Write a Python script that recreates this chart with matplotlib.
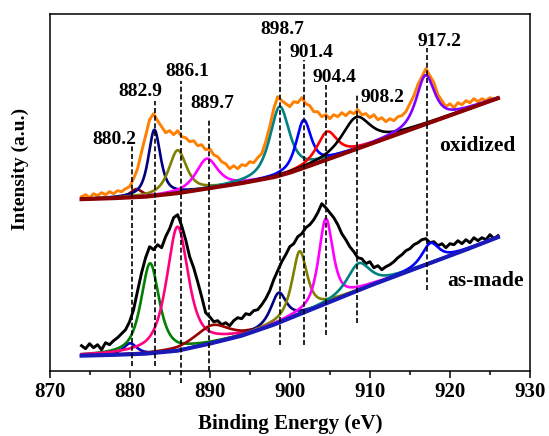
import numpy as np
import matplotlib
matplotlib.use("Agg")
import matplotlib.pyplot as plt
from matplotlib.ticker import MultipleLocator

plt.rcParams['font.family'] = ['Liberation Serif', 'DejaVu Serif']
plt.rcParams['font.weight'] = 'bold'

# energy grid of the measured spectra (eV)
energy = np.arange(874.0, 926.01, 0.5)

# raw spectra (arbitrary units)
oxidized_raw = [174, 176, 173, 177, 175, 178, 176, 179, 177, 180, 179, 182, 184, 192, 202, 219,
                235, 251, 257, 250, 244, 238, 240, 236, 240, 234, 233, 229, 230, 225, 226, 221,
                222, 216, 214, 209, 207, 202, 205, 202, 206, 205, 209, 208, 213, 217, 229, 244,
                262, 274, 270, 267, 264, 269, 268, 273, 267, 265, 259, 259, 254, 256, 252, 256,
                254, 258, 255, 259, 257, 261, 256, 257, 253, 256, 251, 253, 249, 252, 250, 254,
                255, 259, 267, 275, 286, 294, 302, 295, 288, 276, 270, 264, 267, 263, 268, 266,
                270, 268, 272, 269, 272, 270, 273, 271, 272]
asmade_raw = [25, 22, 27, 23, 26, 21, 28, 26, 30, 33, 37, 41, 49, 61, 80, 98,
              113, 124, 121, 126, 123, 134, 142, 153, 156, 145, 131, 114, 103, 89, 74, 58,
              54, 49, 50, 46, 48, 45, 50, 53, 52, 57, 56, 60, 61, 66, 72, 80,
              91, 100, 109, 116, 124, 127, 134, 137, 143, 146, 151, 158, 167, 163, 158, 153,
              146, 137, 131, 124, 119, 113, 112, 107, 109, 103, 105, 101, 104, 106, 109, 113,
              116, 120, 122, 126, 128, 131, 132, 128, 129, 125, 127, 123, 127, 126, 130, 127,
              131, 128, 133, 130, 133, 131, 136, 132, 135]

# backgrounds
ox_bg_x = [874, 878, 882, 886, 890, 894, 898, 900, 902, 906, 910, 914, 918, 922, 926]
ox_bg_y = [171.5, 172.5, 174, 177.5, 182.5, 187.5, 193.5, 198, 203.5, 215, 226.5, 238, 249.5, 261, 272.5]
am_bg_x = [874, 878, 882, 886, 890, 894, 898, 902, 906, 910, 914, 918, 922, 926]
am_bg_y = [15, 15.8, 17, 20, 27, 35, 46, 59, 72, 85, 97, 109, 121, 133.5]

# fitted components: centre (eV), height above background, FWHM (eV)
ox_center = [880.85, 883.1, 886.0, 889.65, 898.73, 901.73, 904.65, 908.3, 916.94]
ox_height = [8, 66, 43, 30, 69, 48, 28, 32, 49]
ox_fwhm = [1.8, 1.8, 2.6, 3.2, 2.9, 2.2, 3.0, 4.2, 2.7]
ox_colors = ['#990000', '#000080', '#808000', '#FF00FF', '#008080', '#0000FF', '#FF0000', '#000000', '#8000FF']

am_center = [880.06, 882.56, 885.98, 890.28, 898.6, 901.23, 904.5, 908.6, 917.56]
am_height = [11, 90, 124, 18, 30, 63, 85, 27, 20]
am_fwhm = [2.0, 2.7, 3.2, 5.0, 2.3, 2.2, 2.1, 3.4, 2.5]
am_colors = ['#0000CC', '#008000', '#FF0080', '#990000', '#000080', '#808000', '#FF00FF', '#008080', '#0000FF']

# peak labels and marker lines
peak_labels = ['880.2', '882.9', '886.1', '889.7', '898.7', '901.4', '904.4', '908.2', '917.2']
label_x = [878.06, 881.4, 887.15, 890.28, 899.09, 902.65, 905.56, 911.53, 918.65]
label_y = [227, 274.3, 295, 262.7, 336.7, 313.7, 288.3, 268.3, 325]
line_x = [880.3, 883.2, 886.4, 889.95, 898.75, 901.75, 904.55, 908.4, 917.15]
line_top = [224.3, 269.3, 289.3, 251, 331, 311, 286, 276, 322.7]
line_bottom = [4.3, 4.3, -12.3, 0, 26, 26, 36, 47.7, 81]


def pvoigt(x, c, h, w, eta=0.7):
    g = np.exp(-4 * np.log(2) * ((x - c) / w) ** 2)
    lo = 1.0 / (1.0 + 4 * ((x - c) / w) ** 2)
    return h * (eta * lo + (1 - eta) * g)


fig = plt.figure(figsize=(5.49, 4.36), dpi=100)
ax = fig.add_axes([49.5 / 549, 1 - 370.7 / 436, 480.5 / 549, 356.7 / 436])

xf = np.linspace(874, 926, 600)

# oxidized
ax.plot(energy, oxidized_raw, color='#FF8000', lw=2.1, zorder=1)
bg = np.interp(xf, ox_bg_x, ox_bg_y)
for c, h, w, col in zip(ox_center, ox_height, ox_fwhm, ox_colors):
    ax.plot(xf, bg + pvoigt(xf, c, h, w), color=col, lw=1.9, zorder=2)
ax.plot(ox_bg_x, ox_bg_y, color='#8B0000', lw=2.9, zorder=3)

# as-made
ax.plot(energy, asmade_raw, color='black', lw=2.1, zorder=1)
bg = np.interp(xf, am_bg_x, am_bg_y)
for c, h, w, col in zip(am_center, am_height, am_fwhm, am_colors):
    ax.plot(xf, bg + pvoigt(xf, c, h, w), color=col, lw=1.9, zorder=2)
ax.plot(am_bg_x, am_bg_y, color='#1A1AB8', lw=2.9, zorder=3)

# dashed peak markers and labels
for lx, t, b in zip(line_x, line_top, line_bottom):
    ax.plot([lx, lx], [b, t], color='black', lw=1.2, ls=(0, (3, 1.6)), clip_on=False, zorder=4)
for s, tx, ty in zip(peak_labels, label_x, label_y):
    ax.text(tx, ty, s, ha='center', va='baseline', fontsize=14, fontweight='bold')

ax.text(923.44, 219.3, 'oxidized', ha='center', va='baseline', fontsize=15.5, fontweight='bold')
ax.text(924.44, 85, 'as-made', ha='center', va='baseline', fontsize=15.5, fontweight='bold')

ax.set_xlim(870, 930)
ax.set_ylim(0, 356.7)
ax.xaxis.set_major_locator(MultipleLocator(10))
ax.xaxis.set_minor_locator(MultipleLocator(5))
ax.tick_params(axis='x', which='major', direction='out', length=5, width=1.1, labelsize=15, pad=3)
ax.tick_params(axis='x', which='minor', direction='out', length=3, width=1.1)
ax.tick_params(axis='y', left=False, labelleft=False)
for lab in ax.get_xticklabels():
    lab.set_fontweight('bold')
for sp in ax.spines.values():
    sp.set_linewidth(1.1)

fig.text(290 / 549, 1 - 429 / 436, 'Binding Energy (eV)', ha='center', va='baseline',
         fontsize=15, fontweight='bold')
fig.text(20.7 / 549, 1 - 169 / 436, 'Intensity (a.u.)', ha='center', va='center',
         rotation=90, fontsize=14, fontweight='bold')

fig.savefig('out.png', dpi=100)
